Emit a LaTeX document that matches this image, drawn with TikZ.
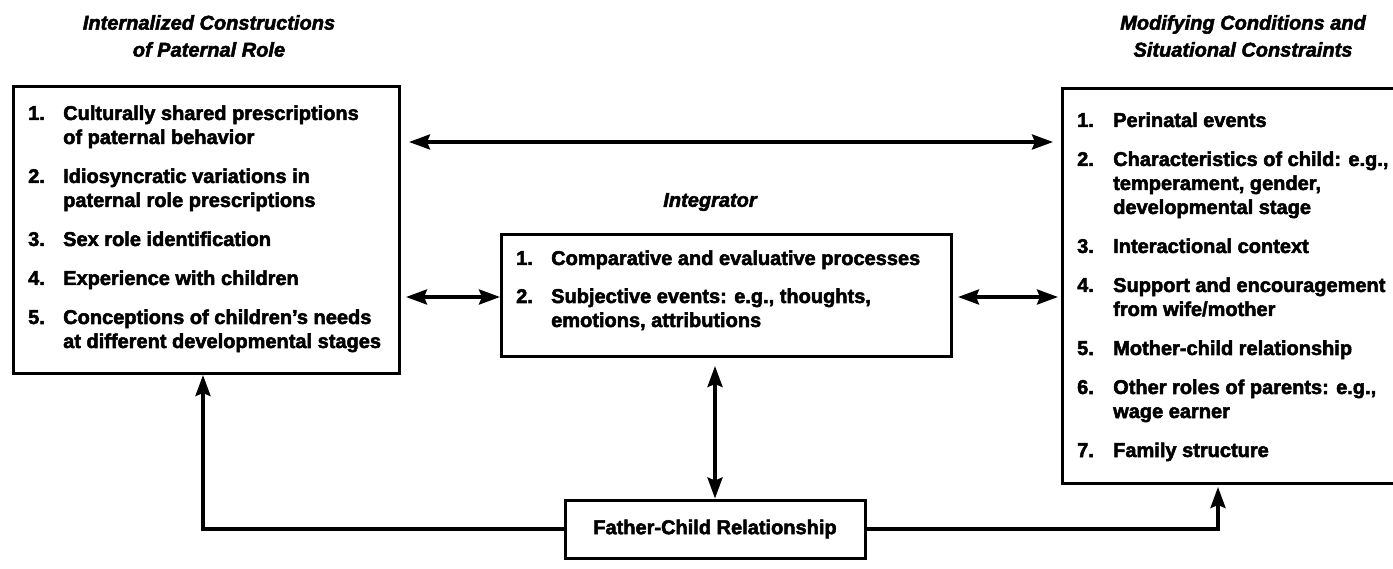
\documentclass[tikz,border=0pt]{standalone}
\usepackage{fontspec}
\setmainfont{Liberation Sans}[BoldFeatures={FakeBold=2.5},BoldItalicFeatures={FakeBold=2.5}]
\usetikzlibrary{arrows.meta}
\tikzset{Hd/.tip={Stealth[length=21pt,width=15pt,inset=3pt]}}
\begin{document}
\begin{tikzpicture}[x=1pt,y=-1pt,
  box/.style={draw, line width=3pt, inner sep=0pt, anchor=north west},
  txt/.style={font=\fontsize{20}{24}\selectfont\bfseries, anchor=base west, inner sep=0pt},
  ttl/.style={font=\fontsize{20}{27}\selectfont\bfseries\itshape, align=center, inner sep=0pt},
  link/.style={line width=3.5pt, -Hd},
  dlink/.style={line width=3.5pt, Hd-Hd}]
\useasboundingbox (0,0) rectangle (1393,569);
\begin{scope}
\clip (0,0) rectangle (1393,569);
% boxes
\node[box, minimum width=386pt, minimum height=287pt] (int) at (12,85) {};
\node[box, minimum width=450pt, minimum height=122pt] (integ) at (500,233) {};
\node[box, minimum width=345pt, minimum height=395pt] (mod) at (1061,87) {};
\node[box, anchor=center, minimum width=300pt, minimum height=58pt,
      font=\fontsize{20}{24}\selectfont\bfseries] (fc) at (715,529) {Father-Child Relationship};
\end{scope}
% titles
\node[ttl] (t1) at (209,36) {Internalized Constructions\\of Paternal Role};
\node[ttl] (t2) at (1243,36) {Modifying Conditions and\\Situational Constraints};
\node[ttl] (t3) at (710,202) {Integrator};
% left box items
\node[txt] (l1n) at (28,120) {1.};
\node[txt] (l1a) at (63,120) {Culturally shared prescriptions};
\node[txt] (l1b) at (63,144) {of paternal behavior};
\node[txt] (l2n) at (28,183) {2.};
\node[txt] (l2a) at (63,183) {Idiosyncratic variations in};
\node[txt] (l2b) at (63,207) {paternal role prescriptions};
\node[txt] (l3n) at (28,246) {3.};
\node[txt] (l3a) at (63,246) {Sex role identification};
\node[txt] (l4n) at (28,285) {4.};
\node[txt] (l4a) at (63,285) {Experience with children};
\node[txt] (l5n) at (28,324) {5.};
\node[txt] (l5a) at (63,324) {Conceptions of children's needs};
\node[txt] (l5b) at (63,348) {at different developmental stages};
% center box items
\node[txt] (c1n) at (516,265) {1.};
\node[txt] (c1a) at (551,265) {Comparative and evaluative processes};
\node[txt] (c2n) at (516,303) {2.};
\node[txt] (c2a) at (551,303) {Subjective events: e.g., thoughts,};
\node[txt] (c2b) at (551,327) {emotions, attributions};
% right box items
\node[txt] (r1n) at (1077,127) {1.};
\node[txt] (r1a) at (1113,127) {Perinatal events};
\node[txt] (r2n) at (1077,166) {2.};
\node[txt] (r2a) at (1113,166) {Characteristics of child: e.g.,};
\node[txt] (r2b) at (1113,190) {temperament, gender,};
\node[txt] (r2c) at (1113,214) {developmental stage};
\node[txt] (r3n) at (1077,253) {3.};
\node[txt] (r3a) at (1113,253) {Interactional context};
\node[txt] (r4n) at (1077,292) {4.};
\node[txt] (r4a) at (1113,292) {Support and encouragement};
\node[txt] (r4b) at (1113,316) {from wife/mother};
\node[txt] (r5n) at (1077,355) {5.};
\node[txt] (r5a) at (1113,355) {Mother-child relationship};
\node[txt] (r6n) at (1077,394) {6.};
\node[txt] (r6a) at (1113,394) {Other roles of parents: e.g.,};
\node[txt] (r6b) at (1113,418) {wage earner};
\node[txt] (r7n) at (1077,457) {7.};
\node[txt] (r7a) at (1113,457) {Family structure};
% connectors
\coordinate (yTop) at (0,142);
\coordinate (yMid) at (0,297);
\coordinate (xL) at (203,0);
\coordinate (xR) at (1218,0);
\draw[dlink, shorten <=8pt, shorten >=8pt] (int.east |- yTop) -- (mod.west |- yTop);
\draw[dlink, shorten <=5pt] (int.east |- yMid) -- (integ.west |- yMid);
\draw[dlink, shorten <=5pt, shorten >=3pt] (integ.east |- yMid) -- (mod.west |- yMid);
\draw[dlink, shorten <=8pt] (fc.north |- integ.south) -- (fc.north);
\draw[link] (fc.west) -| (int.south -| xL);
\draw[link, shorten >=2pt] (fc.east) -| (mod.south -| xR);
\end{tikzpicture}
\end{document}
